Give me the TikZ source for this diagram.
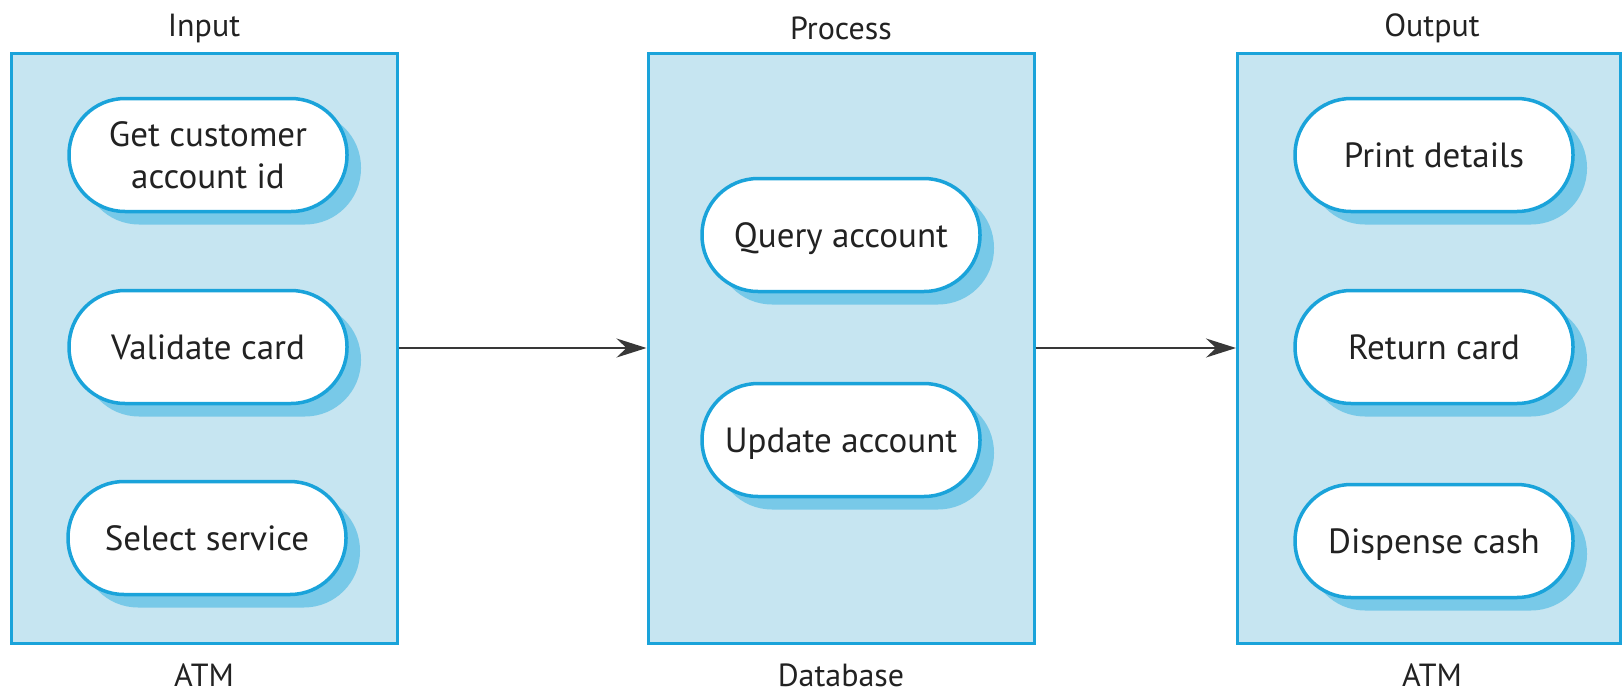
\documentclass[tikz,border=0pt]{standalone}
\usepackage{fontspec}
\setmainfont{PT Sans}
\usetikzlibrary{arrows.meta,shadows}
\definecolor{boxfill}{HTML}{C6E5F1}
\definecolor{edgeblue}{HTML}{1AA3DA}
\definecolor{shadowblue}{HTML}{78C9E8}
\definecolor{txt}{HTML}{222222}
\tikzset{
  lanebox/.style={draw=edgeblue, fill=boxfill, line width=3pt, minimum height=590pt, inner sep=0pt},
  activity/.style={draw=edgeblue, fill=white, line width=3.5pt, rounded corners=56pt,
    minimum width=278pt, minimum height=113pt, inner sep=0pt, align=center,
    font=\fontsize{35}{42}\selectfont, text=txt, text depth=0pt,
    drop shadow={shadow xshift=14pt, shadow yshift=-13pt, fill=shadowblue, opacity=1, draw=none}},
  lanelabel/.style={font=\fontsize{32}{38}\selectfont, text=txt, inner sep=0pt},
  flow/.style={draw=txt!90, line width=2pt, -{Stealth[length=30pt,width=19pt,inset=10pt]}}
}
\begin{document}
\begin{tikzpicture}[x=1pt,y=-1pt]
\useasboundingbox (0,0) rectangle (1623,697);
\node[lanebox, minimum width=386pt] (inbox) at (204,348) {};
\node[lanebox, minimum width=386pt] (procbox) at (841,348) {};
\node[lanebox, minimum width=383pt] (outbox) at (1429,348) {};
\node[lanelabel] (inlabel) at (204,28) {Input};
\node[lanelabel] (proclabel) at (841,28) {Process};
\node[lanelabel] (outlabel) at (1432,28) {Output};
\node[lanelabel] (inatm) at (204,675) {ATM};
\node[lanelabel] (db) at (841,675) {Database};
\node[lanelabel] (outatm) at (1432,675) {ATM};
\node[activity] (getid) at (208,155) {Get customer\\account id};
\node[activity] (validate) at (208,347) {Validate card};
\node[activity] (select) at (207,538) {Select service};
\node[activity] (query) at (841,235) {Query account};
\node[activity] (update) at (841,440) {Update account};
\node[activity] (print) at (1434,155) {Print details};
\node[activity] (return) at (1434,347) {Return card};
\node[activity] (dispense) at (1434,541) {Dispense cash};
\draw[flow] (inbox.east) -- (procbox.west);
\draw[flow] (procbox.east) -- (outbox.west);
\end{tikzpicture}
\end{document}
